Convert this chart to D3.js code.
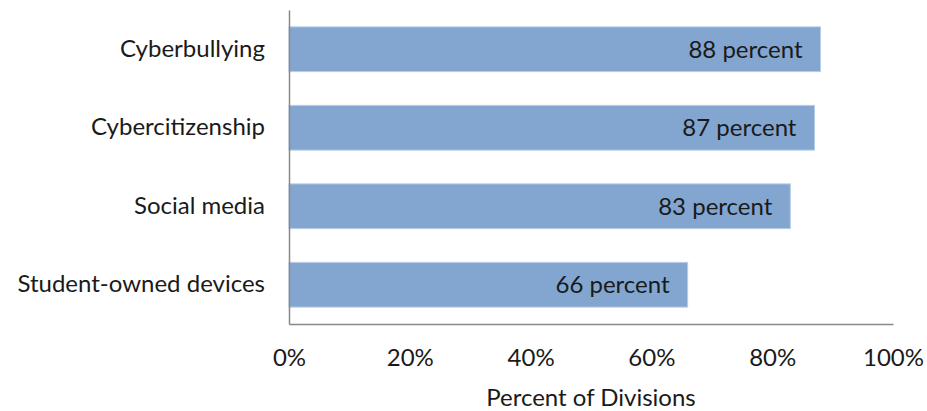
<!DOCTYPE html>
<html>
<head>
<meta charset="utf-8">
<script src="https://cdn.jsdelivr.net/npm/d3@7"></script>
<style>
  body { margin: 0; background: #fff; }
  svg text { font-family: Lato, "Open Sans", sans-serif; fill: #1a1a1a; }
</style>
</head>
<body>
<div id="chart"></div>
<script>
var categories = ["Cyberbullying", "Cybercitizenship", "Social media", "Student-owned devices"];
var values = [88, 87, 83, 66];
var tickValues = [0, 20, 40, 60, 80, 100];
var axisTitle = "Percent of Divisions";

var width = 927, height = 411;
var margin = {top: 10, right: 34, bottom: 87, left: 289};
var barColor = "#82a6d0";
var axisColor = "#888888";
var fontSize = "24px";

var svg = d3.select("#chart").append("svg")
    .attr("width", width)
    .attr("height", height);

var x = d3.scaleLinear()
    .domain([0, 100])
    .range([margin.left, width - margin.right]);

var y = d3.scaleBand()
    .domain(categories)
    .range([margin.top, height - margin.bottom])
    .paddingInner(0.43)
    .paddingOuter(0.215);

// bars
svg.selectAll("rect.bar")
    .data(values)
    .enter()
    .append("rect")
    .attr("class", "bar")
    .attr("x", x(0))
    .attr("y", function(d, i) { return y(categories[i]); })
    .attr("width", function(d) { return x(d) - x(0); })
    .attr("height", y.bandwidth())
    .style("fill", barColor)
    .style("stroke", "#b9cde5")
    .style("stroke-width", 1);

// value labels inside the bars
svg.selectAll("text.value")
    .data(values)
    .enter()
    .append("text")
    .attr("class", "value")
    .attr("x", function(d) { return x(d) - 18; })
    .attr("y", function(d, i) { return y(categories[i]) + y.bandwidth() / 2; })
    .attr("dy", "0.35em")
    .attr("text-anchor", "end")
    .style("font-size", fontSize)
    .text(function(d) { return d + " percent"; });

// x axis
var xAxis = svg.append("g")
    .attr("transform", "translate(0," + (height - margin.bottom) + ")")
    .call(d3.axisBottom(x)
        .tickValues(tickValues)
        .tickSize(0)
        .tickPadding(25)
        .tickFormat(function(d) { return d + "%"; }));
xAxis.select(".domain").attr("stroke", axisColor).attr("stroke-width", 1.5);
xAxis.selectAll("text").style("font-size", fontSize).attr("fill", "#1a1a1a");

// y axis
var yAxis = svg.append("g")
    .attr("transform", "translate(" + margin.left + ",0)")
    .call(d3.axisLeft(y).tickSize(0).tickPadding(24));
yAxis.select(".domain").attr("stroke", axisColor).attr("stroke-width", 1.5);
yAxis.selectAll("text").style("font-size", fontSize).attr("fill", "#1a1a1a");

// axis title
svg.append("text")
    .attr("x", (x(0) + x(100)) / 2)
    .attr("y", 406)
    .attr("text-anchor", "middle")
    .style("font-size", fontSize)
    .text(axisTitle);
</script>
</body>
</html>
